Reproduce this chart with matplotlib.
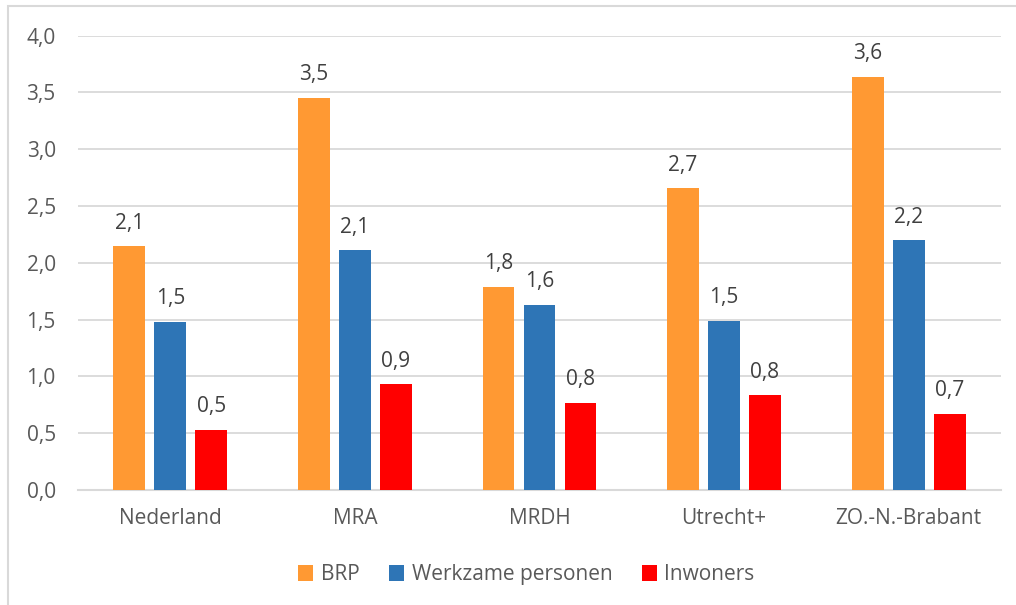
#!/usr/bin/env python3
"""Grouped bar chart: BRP, werkzame personen en inwoners per regio."""

import matplotlib.pyplot as plt
import numpy as np
from matplotlib.patches import Rectangle

plt.rcParams["font.family"] = ["Open Sans", "DejaVu Sans"]

regions = ["Nederland", "MRA", "MRDH", "Utrecht+", "ZO.-N.-Brabant"]
brp = [2.145, 3.455, 1.79, 2.655, 3.64]
werkzame = [1.48, 2.11, 1.63, 1.49, 2.20]
inwoners = [0.53, 0.93, 0.77, 0.835, 0.67]

series = [
    ("BRP", brp, "#FF9933"),
    ("Werkzame personen", werkzame, "#2E75B6"),
    ("Inwoners", inwoners, "#FF0000"),
]

TEXT = "#595959"
FS = 15


def main():
    fig = plt.figure(figsize=(10.16, 6.05), dpi=100)
    ax = fig.add_axes([0.0768, 0.19, 0.9084, 0.751])

    # light grey frame around the chart (only left/top visible in the crop)
    fig.patches.append(Rectangle((0.008, -0.1), 1.2, 1.09, transform=fig.transFigure,
                                 fill=False, edgecolor="#d9d9d9", linewidth=1.5))

    x = np.arange(len(regions))
    width = 0.173
    step = 0.222
    for i, (name, vals, color) in enumerate(series):
        bars = ax.bar(x + (i - 1) * step, vals, width, color=color, label=name, zorder=3)
        for bar, v in zip(bars, vals):
            ax.annotate(f"{v:.1f}".replace(".", ","),
                        (bar.get_x() + bar.get_width() / 2, bar.get_height()),
                        xytext=(0, 9), textcoords="offset points",
                        ha="center", va="bottom", fontsize=FS, color="#404040")

    ax.set_xlim(-0.5, len(regions) - 0.5)
    ax.set_ylim(0, 4.0)
    yt = np.arange(0, 4.01, 0.5)
    ax.set_yticks(yt)
    ax.set_yticklabels([f"{t:.1f}".replace(".", ",") for t in yt])
    ax.set_xticks(x)
    ax.set_xticklabels(regions)
    ax.tick_params(length=0, labelsize=FS, colors=TEXT)
    ax.tick_params(axis="x", pad=13)
    ax.tick_params(axis="y", pad=16)

    ax.grid(axis="y", color="#d9d9d9", linewidth=1.3, zorder=0)
    for s in ["top", "right", "left"]:
        ax.spines[s].set_visible(False)
    ax.spines["bottom"].set_color("#d9d9d9")
    ax.spines["bottom"].set_linewidth(1.5)

    fig.legend(loc="center", bbox_to_anchor=(0.518, 0.05), ncol=3, frameon=False,
               fontsize=FS, handlelength=0.75, handleheight=0.75, handletextpad=0.35,
               columnspacing=1.4, labelcolor=TEXT)

    fig.savefig("out.png", dpi=100)


if __name__ == "__main__":
    main()
